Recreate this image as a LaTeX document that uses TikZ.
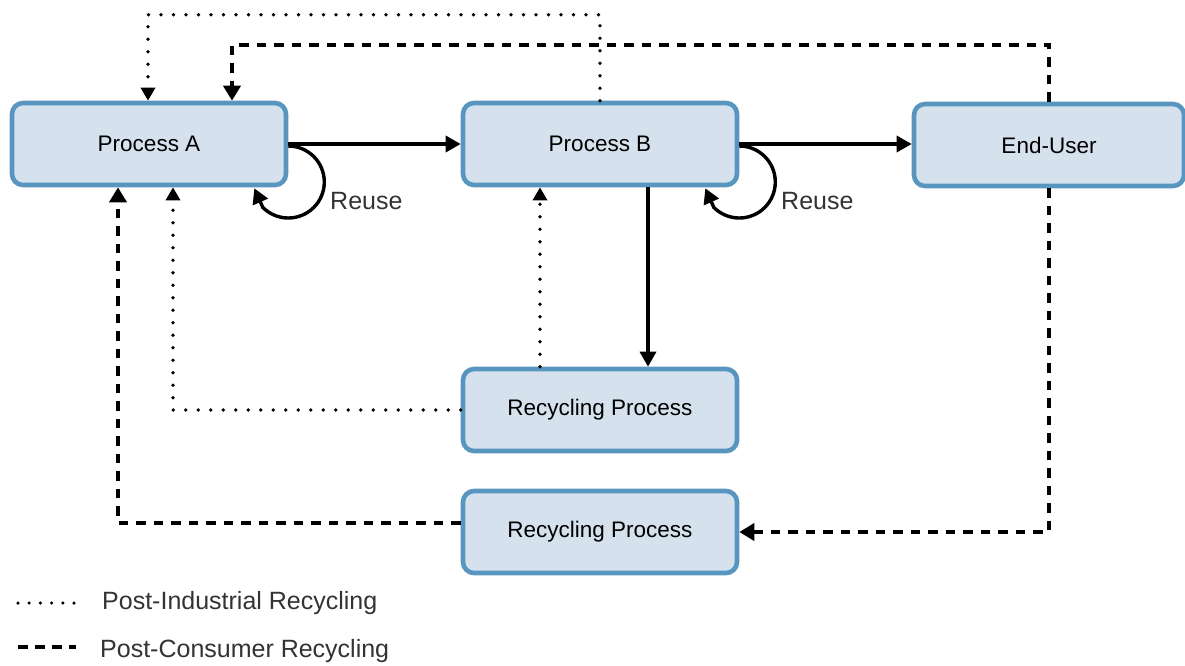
\documentclass[tikz,border=0pt]{standalone}
\usepackage{fontspec}
\setmainfont{Liberation Sans}
\usetikzlibrary{arrows.meta,calc}
\definecolor{boxfill}{HTML}{D5E2EE}
\definecolor{boxline}{HTML}{5896C0}
\definecolor{lighttext}{HTML}{333333}
\tikzset{
  procbox/.style={draw=boxline, fill=boxfill, line width=4.6pt, rounded corners=11pt,
    minimum width=274pt, minimum height=82pt, inner sep=0pt,
    font=\fontsize{22.5}{26}\selectfont, text=black},
  solidflow/.style={line width=3.4pt, -{Triangle[length=15pt,width=16pt]}},
  dotflow/.style={line width=3.7pt, line cap=round, dash pattern=on 0pt off 12.5pt,
    -{Triangle[length=13pt,width=14pt]}},
  dashflow/.style={line width=4pt, dash pattern=on 9.5pt off 8pt,
    -{Triangle[length=15pt,width=17pt]}},
  lbl/.style={font=\fontsize{25}{28}\selectfont, text=lighttext, anchor=west, inner sep=0pt}
}
\begin{document}
\begin{tikzpicture}[x=1pt,y=-1pt]
\useasboundingbox (0,0) rectangle (1185,665);
\node[procbox] (A) at (149,144) {Process A};
\node[procbox] (B) at (600,144) {Process B};
\node[procbox, minimum width=270pt] (E) at (1049,145) {End-User};
\node[procbox] (R1) at (600,410) {Recycling Process};
\node[procbox] (R2) at (600,532) {Recycling Process};

% solid flows
\draw[solidflow] (A.east) -- (B.west);
\draw[solidflow] (B.east) -- (E.west |- B.east);
\draw[solidflow] ([xshift=48pt]B.south) -- ([xshift=48pt]R1.north);

% reuse loops
\coordinate (Aloop) at ([yshift=-2pt]A.east);
\coordinate (Atip) at ([xshift=-34pt,yshift=-1pt]A.south east);
\draw[line width=3.4pt, -{Triangle[length=15pt,width=16pt]}]
  (Aloop) arc[start angle=-90, end angle=135, radius=36] -- (Atip);
\node[lbl] (RA) at (330,201) {Reuse};
\coordinate (Bloop) at ([yshift=-2pt]B.east);
\coordinate (Btip) at ([xshift=-34pt,yshift=-1pt]B.south east);
\draw[line width=3.4pt, -{Triangle[length=15pt,width=16pt]}]
  (Bloop) arc[start angle=-90, end angle=135, radius=36] -- (Btip);
\node[lbl] (RB) at (781,201) {Reuse};

% post-industrial (dotted)
\draw[dotflow] (B.north) -- ++(0,-86) -| ([xshift=-1pt]A.north);
\draw[dotflow] (R1.west) -| ([xshift=24pt]A.south);
\draw[dotflow] ([xshift=-60pt]R1.north) -- ([xshift=-60pt]B.south);

% post-consumer (dashed)
\draw[dashflow] (E.north) -- ++(0,-57) -| ([xshift=83pt]A.north);
\draw[dashflow] (E.south) |- (R2.east);
\draw[dashflow] ([yshift=9pt]R2.west) -| ([xshift=-31pt]A.south);

% legend
\coordinate (L1a) at (18,603);
\coordinate (L1b) at (75,603);
\draw[line width=3.5pt, line cap=round, dash pattern=on 0pt off 11.2pt] (L1a) -- (L1b);
\node[lbl] (T1) at (102,603) {Post-Industrial Recycling};
\coordinate (L2a) at (18,647);
\coordinate (L2b) at (76,647);
\draw[line width=4pt, dash pattern=on 10pt off 7pt] (L2a) -- (L2b);
\node[lbl] (T2) at (100,651) {Post-Consumer Recycling};
\end{tikzpicture}
\end{document}
